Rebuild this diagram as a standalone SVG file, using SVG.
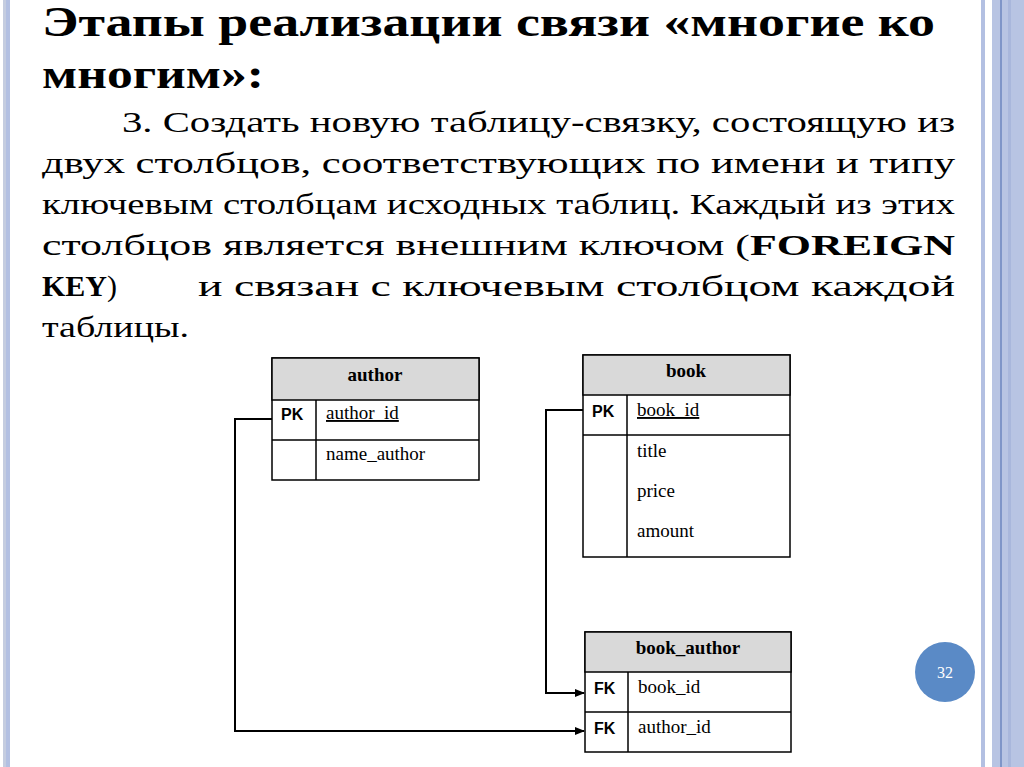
<svg xmlns="http://www.w3.org/2000/svg" width="1024" height="767" viewBox="0 0 1024 767">
<style>
text{font-family:'Liberation Serif',serif}
.t{font-weight:bold;font-size:42px;fill:#000}
.b{font-size:30px;fill:#000}
.h{font-weight:bold;font-size:19px;fill:#000}
.f{font-size:19px;fill:#000}
.k{font-family:'Liberation Sans',sans-serif;font-weight:bold;font-size:16px;fill:#000}
.box{fill:#fff;stroke:#000;stroke-width:1.5}
.hd{fill:#d9d9d9;stroke:#000;stroke-width:1.5}
.ln{stroke:#000;stroke-width:1.5}
.c{fill:none;stroke:#000;stroke-width:2}
</style>
<defs><marker id="a" markerWidth="10" markerHeight="10" refX="9" refY="5" orient="auto" markerUnits="userSpaceOnUse"><path d="M0,1 L10,5 L0,9 Z" fill="#000"/></marker></defs>
<rect width="1024" height="767" fill="#fff"/>
<rect x="3" y="0" width="3" height="767" fill="#c5cde0"/>
<rect x="6" y="0" width="4" height="767" fill="#b3c0e2"/>
<rect x="981" y="0" width="4" height="767" fill="#b3c0e2"/>
<rect x="992" y="0" width="32" height="767" fill="#b8c4e3"/>
<rect x="1000" y="0" width="2" height="767" fill="#7f95c8"/>
<rect x="1008" y="0" width="3" height="767" fill="#a9b7dc"/>
<text class="t" x="42" y="36" textLength="893" lengthAdjust="spacingAndGlyphs">Этапы реализации связи «многие ко</text>
<text class="t" x="42" y="88" textLength="222" lengthAdjust="spacingAndGlyphs">многим»:</text>
<text class="b" x="122" y="132" textLength="833" lengthAdjust="spacingAndGlyphs">3. Создать новую таблицу-связку, состоящую из</text>
<text class="b" x="42" y="173" textLength="913" lengthAdjust="spacingAndGlyphs">двух столбцов, соответствующих по имени и типу</text>
<text class="b" x="42" y="214" textLength="913" lengthAdjust="spacingAndGlyphs">ключевым столбцам исходных таблиц. Каждый из этих</text>
<text class="b" x="42" y="255" textLength="913" lengthAdjust="spacingAndGlyphs">столбцов является внешним ключом (<tspan font-weight="bold">FOREIGN</tspan></text>
<text class="b" x="42" y="296"><tspan font-weight="bold">KEY</tspan>)</text>
<text class="b" x="198" y="296" textLength="757" lengthAdjust="spacingAndGlyphs">и связан с ключевым столбцом каждой</text>
<text class="b" x="42" y="337" textLength="147" lengthAdjust="spacingAndGlyphs">таблицы.</text>
<g id="connectors">
<path class="c" d="M272,419 H235 V731 H584" marker-end="url(#a)"/>
<path class="c" d="M583,410 H546 V693 H584" marker-end="url(#a)"/>
</g>
<g id="author">
<rect class="box" x="272" y="358" width="207" height="122"/>
<rect class="hd" x="272" y="358" width="207" height="42"/>
<line class="ln" x1="272" y1="440" x2="479" y2="440"/>
<line class="ln" x1="316" y1="400" x2="316" y2="480"/>
<text class="h" x="375" y="381" text-anchor="middle">author</text>
<text class="k" x="281" y="420">PK</text>
<text class="f" x="326" y="419" text-decoration="underline">author_id</text>
<text class="f" x="326" y="460">name_author</text>
</g>
<g id="book">
<rect class="box" x="583" y="355" width="207" height="202"/>
<rect class="hd" x="583" y="355" width="207" height="40"/>
<line class="ln" x1="583" y1="435" x2="790" y2="435"/>
<line class="ln" x1="627" y1="395" x2="627" y2="557"/>
<text class="h" x="686" y="377" text-anchor="middle">book</text>
<text class="k" x="592" y="417">PK</text>
<text class="f" x="637" y="416" text-decoration="underline">book_id</text>
<text class="f" x="637" y="457">title</text>
<text class="f" x="637" y="497">price</text>
<text class="f" x="637" y="537">amount</text>
</g>
<g id="book_author">
<rect class="box" x="585" y="632" width="206" height="120"/>
<rect class="hd" x="585" y="632" width="206" height="40"/>
<line class="ln" x1="585" y1="712" x2="791" y2="712"/>
<line class="ln" x1="628" y1="672" x2="628" y2="752"/>
<text class="h" x="688" y="654" text-anchor="middle">book_author</text>
<text class="k" x="594" y="694">FK</text>
<text class="f" x="638" y="693">book_id</text>
<text class="k" x="594" y="734">FK</text>
<text class="f" x="638" y="733">author_id</text>
</g>
<g id="page">
<circle cx="945" cy="672" r="30" fill="#5a8ac6"/>
<text x="945" y="678" text-anchor="middle" font-size="16" fill="#fff">32</text>
</g>
</svg>
